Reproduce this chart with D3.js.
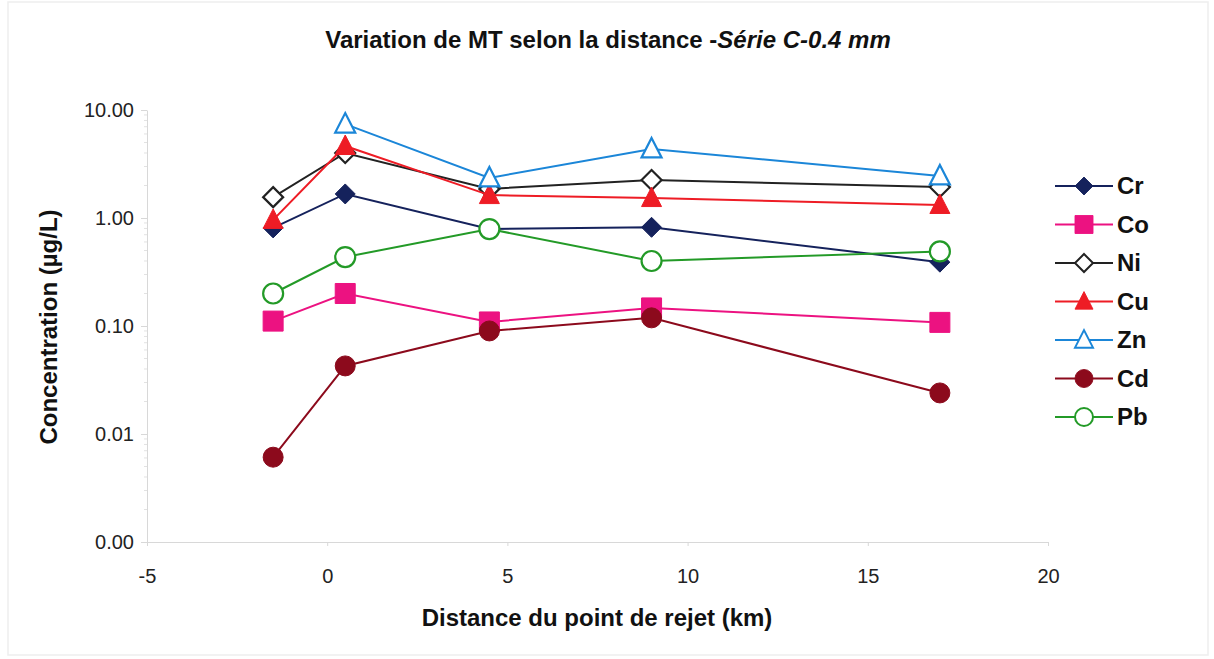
<!DOCTYPE html>
<html>
<head>
<meta charset="utf-8">
<script src="https://cdn.jsdelivr.net/npm/d3@7"></script>
<style>
  body { margin: 0; background: #fff; }
  text { font-family: "Liberation Sans", Arial, sans-serif; fill: #111; }
</style>
</head>
<body>
<svg id="chart" width="1214" height="659"></svg>
<script>
// distances (km)
var distances = [-1.5, 0.5, 4.5, 9, 17];

// concentrations (µg/L), null = no point
var cr = [0.81, 1.67, 0.79, 0.82, 0.39];
var co = [0.111, 0.20, 0.109, 0.147, 0.108];
var ni = [1.56, 4.0, 1.86, 2.25, 1.94];
var cu = [0.96, 4.64, 1.63, 1.53, 1.32];
var zn = [null, 7.4, 2.35, 4.36, 2.45];
var cd = [0.0061, 0.0427, 0.090, 0.119, 0.024];
var pb = [0.20, 0.435, 0.79, 0.40, 0.49];

var xTicks = [-5, 0, 5, 10, 15, 20];
var yTicks = [0.001, 0.01, 0.1, 1, 10];

var series = [
  {name: "Cr", values: cr, color: "#15225c", shape: "diamond", fill: true},
  {name: "Co", values: co, color: "#ec1281", shape: "square", fill: true},
  {name: "Ni", values: ni, color: "#222222", shape: "diamond", fill: false},
  {name: "Cu", values: cu, color: "#ee1c25", shape: "triangle", fill: true},
  {name: "Zn", values: zn, color: "#1b86d8", shape: "triangle", fill: false},
  {name: "Cd", values: cd, color: "#8c0a1c", shape: "circle", fill: true},
  {name: "Pb", values: pb, color: "#239a27", shape: "circle", fill: false}
];

var svg = d3.select("#chart");

// faint frame around the picture
svg.append("rect")
  .attr("x", 8).attr("y", 2).attr("width", 1200).attr("height", 653)
  .attr("fill", "none").attr("stroke", "#eeeeee").attr("stroke-width", 1.5);

var x = d3.scaleLinear().domain([-5, 20]).range([147, 1048]);
var y = d3.scaleLog().domain([0.001, 10]).range([542, 110]);

// title
var title = svg.append("text")
  .attr("x", 608).attr("y", 48)
  .attr("text-anchor", "middle")
  .style("font-size", "24px").style("font-weight", "bold");
title.append("tspan").text("Variation de MT selon la distance -");
title.append("tspan").style("font-style", "italic").text("Série C-0.4 mm");

// axes
var xAxis = d3.axisBottom(x).tickValues(xTicks).tickSize(4).tickSizeOuter(0)
  .tickFormat(function(d) { return String(d); });   // plain hyphen like the original
var gx = svg.append("g").attr("transform", "translate(0," + y(0.001) + ")").call(xAxis);
gx.selectAll("path, line").attr("stroke", "#d8d8d8");
gx.selectAll("text").attr("y", 27).attr("dy", "0.71em").style("font-size", "20px").style("fill", "#222");

var yAxis = d3.axisLeft(y).tickValues(yTicks).tickSize(6).tickSizeOuter(0)
  .tickFormat(d3.format(".2f"));
var gy = svg.append("g").attr("transform", "translate(" + x(-5) + ",0)").call(yAxis);
gy.selectAll("path, line").attr("stroke", "#d8d8d8");
gy.selectAll("text").attr("x", -13).style("font-size", "20px").style("fill", "#222");

// minor ticks on the log axis
var minor = [];
yTicks.slice(0, -1).forEach(function(t) {
  for (var k = 2; k < 10; k++) minor.push(t * k);
});
svg.append("g").selectAll("line").data(minor).enter().append("line")
  .attr("x1", x(-5) - 3).attr("x2", x(-5))
  .attr("y1", function(d) { return y(d); })
  .attr("y2", function(d) { return y(d); })
  .attr("stroke", "#e2e2e2");

// axis titles
svg.append("text")
  .attr("x", 597).attr("y", 626)
  .attr("text-anchor", "middle")
  .style("font-size", "24px").style("font-weight", "bold")
  .text("Distance du point de rejet (km)");

svg.append("text")
  .attr("transform", "translate(57,327) rotate(-90)")
  .attr("text-anchor", "middle")
  .style("font-size", "24px").style("font-weight", "bold")
  .text("Concentration (µg/L)");

// marker shapes
function markerPath(shape) {
  if (shape === "diamond") return "M0,-10L10,0L0,10L-10,0Z";
  if (shape === "square") return "M-10,-10H10V10H-10Z";
  if (shape === "triangle") return "M0,-11L10,8.5H-10Z";
  return "M10,0A10,10 0 1,1 -10,0A10,10 0 1,1 10,0Z";
}

function drawMarker(g, s) {
  g.append("path")
    .attr("d", markerPath(s.shape))
    .attr("fill", s.fill ? s.color : "#fff")
    .attr("stroke", s.color)
    .attr("stroke-width", s.fill ? 1 : 2.2);
}

var line = d3.line()
  .defined(function(d) { return d.v != null; })
  .x(function(d) { return x(d.x); })
  .y(function(d) { return y(d.v); });

series.forEach(function(s) {
  var pts = distances.map(function(d, i) { return {x: d, v: s.values[i]}; });
  var g = svg.append("g");
  g.append("path")
    .attr("d", line(pts))
    .attr("fill", "none")
    .attr("stroke", s.color)
    .attr("stroke-width", 2);
  pts.filter(function(p) { return p.v != null; }).forEach(function(p) {
    var m = g.append("g").attr("transform", "translate(" + x(p.x) + "," + y(p.v) + ")");
    drawMarker(m, s);
  });
});

// legend
var legend = svg.append("g").attr("transform", "translate(1055,186)");
series.forEach(function(s, i) {
  var row = legend.append("g").attr("transform", "translate(0," + (i * 38.5) + ")");
  row.append("line")
    .attr("x1", 0).attr("x2", 58)
    .attr("stroke", s.color).attr("stroke-width", 2);
  var m = row.append("g").attr("transform", "translate(29,0) scale(0.9)");
  drawMarker(m, s);
  row.append("text")
    .attr("x", 62).attr("y", 8)
    .style("font-size", "24px").style("font-weight", "bold")
    .text(s.name);
});
</script>
</body>
</html>
